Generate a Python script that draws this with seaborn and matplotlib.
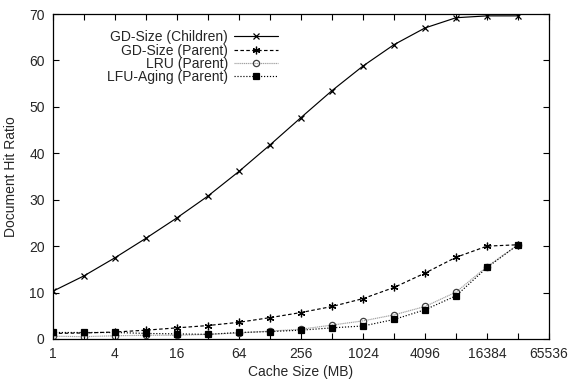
import numpy as np
import pandas as pd
import matplotlib
matplotlib.use("Agg")
import matplotlib.pyplot as plt
import seaborn as sns

# cache sizes (MB), powers of two
cache_mb = [1, 2, 4, 8, 16, 32, 64, 128, 256, 512, 1024, 2048, 4096, 8192, 16384, 32768]

gd_children = [10.3, 13.6, 17.5, 21.7, 26.1, 30.8, 36.1, 41.8, 47.7, 53.5, 58.8, 63.4, 67.0, 69.2, 69.6, 69.6]
gd_parent = [1.2, 1.3, 1.5, 1.9, 2.4, 2.9, 3.6, 4.6, 5.7, 7.0, 8.7, 11.1, 14.2, 17.6, 20.0, 20.3]
lru_parent = [0.6, 0.5, 0.7, 0.8, 0.8, 1.0, 1.3, 1.7, 2.1, 3.0, 3.9, 5.2, 7.0, 10.1, 15.6, 20.3]
lfu_parent = [1.4, 1.4, 1.4, 1.2, 1.1, 1.0, 1.4, 1.6, 1.9, 2.4, 2.8, 4.2, 6.3, 9.3, 15.4, 20.3]

series_names = ["GD-Size (Children)", "GD-Size (Parent)", "LRU (Parent)", "LFU-Aging (Parent)"]
x_ticks = [2 ** k for k in range(17)]
x_labels = [str(v) if k % 2 == 0 else "" for k, v in enumerate(x_ticks)]
y_ticks = [0, 10, 20, 30, 40, 50, 60, 70]

sns.set_style("ticks")
plt.rcParams["font.family"] = ["Liberation Sans", "DejaVu Sans"]
plt.rcParams["xtick.direction"] = "in"
plt.rcParams["ytick.direction"] = "in"

fig = plt.figure(figsize=(5.69, 3.84), dpi=100)
ax = fig.add_axes([0.0931, 0.1172, 0.8718, 0.8463])

styles = [
    dict(color="black", linestyle="-", marker="x", markersize=4.5, markeredgecolor="black"),
    dict(color="black", linestyle=(0, (3, 2)), marker=(6, 2, 0), markersize=5.5,
         markeredgecolor="black"),
    dict(color="#a0a0a0", linestyle=(0, (1, 0.6)), marker="o", markersize=4.5,
         markerfacecolor="none", markeredgecolor="#404040"),
    dict(color="black", linestyle=(0, (1, 1.5)), marker="s", markersize=4.5,
         markeredgecolor="black"),
]
values = [gd_children, gd_parent, lru_parent, lfu_parent]

for name, vals, st in zip(series_names, values, styles):
    df = pd.DataFrame({"size": cache_mb, "ratio": vals})
    sns.lineplot(data=df, x="size", y="ratio", ax=ax, label=name, linewidth=0.85,
                 markeredgewidth=0.9, **st)

ax.set_xscale("log", base=2)
ax.set_xlim(1, 65536)
ax.set_ylim(0, 70)
ax.set_xticks(x_ticks)
ax.set_xticklabels(x_labels)
ax.minorticks_off()
ax.set_yticks(y_ticks)
ax.tick_params(axis="both", which="both", top=True, right=True, length=4, width=0.8,
               labelsize=10, pad=6, color="black")
for s in ax.spines.values():
    s.set_linewidth(0.9)
    s.set_color("black")

ax.set_xlabel("Cache Size (MB)", fontsize=10, labelpad=3)
ax.set_ylabel("Document Hit Ratio", fontsize=10, labelpad=8)

leg = ax.legend(loc="upper right", bbox_to_anchor=(0.4536, 0.95), frameon=False,
                markerfirst=False, fontsize=10, handlelength=3.2, handletextpad=0.4,
                labelspacing=-0.05, borderpad=0, borderaxespad=0)

fig.savefig("out.png", dpi=100)
